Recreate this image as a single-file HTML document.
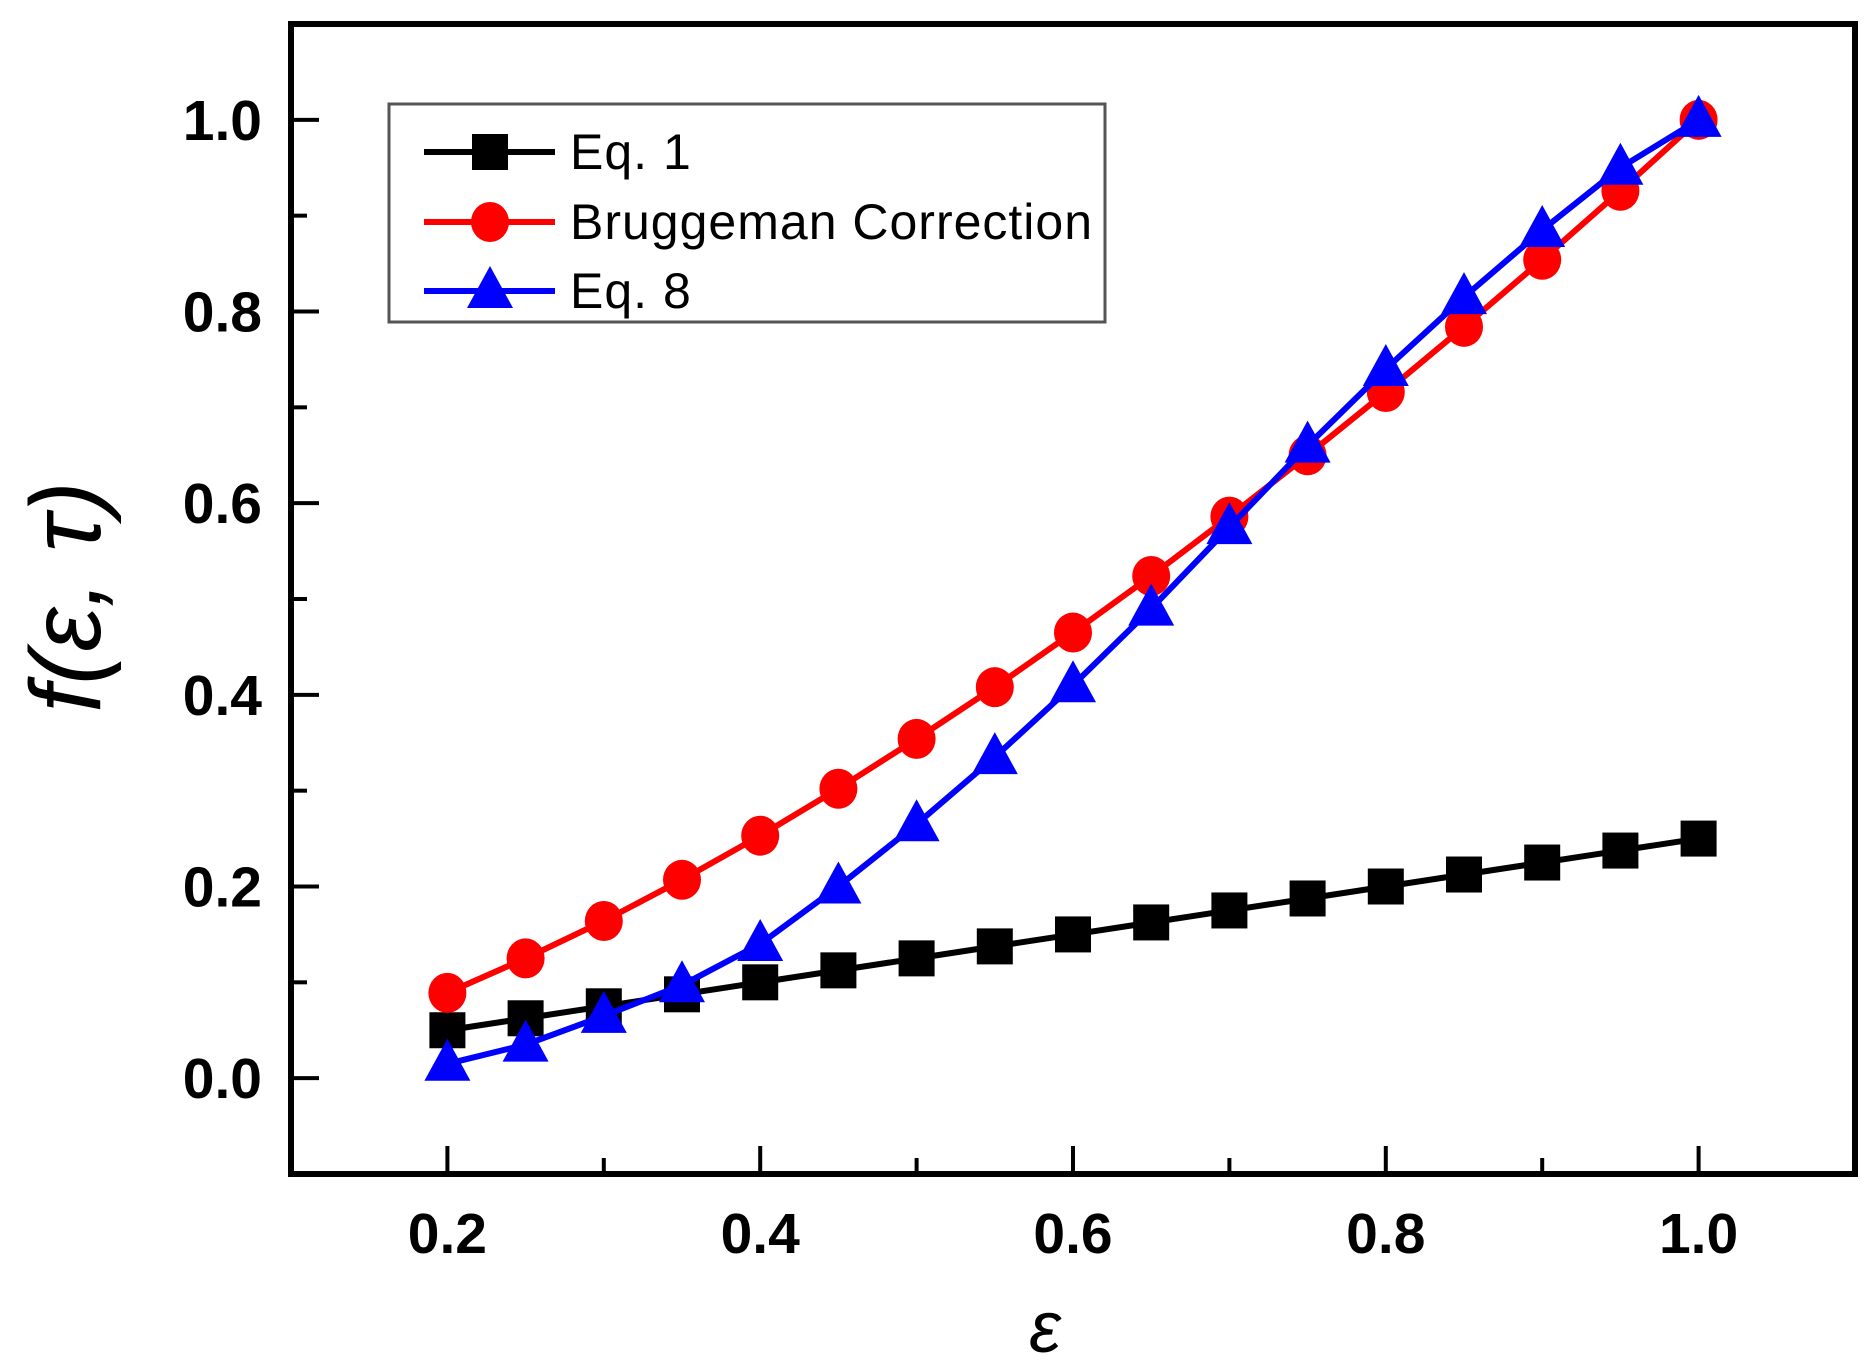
<!DOCTYPE html>
<html><head><meta charset="utf-8"><style>
html,body{margin:0;padding:0;background:#fff;}
svg{display:block;}
text{font-family:"Liberation Sans",sans-serif;}
</style></head><body>
<svg id="chart" width="1873" height="1367" viewBox="0 0 1873 1367">
<g id="plot"></g>
</svg>
<script>
const xs = [0.2,0.25,0.3,0.35,0.4,0.45,0.5,0.55,0.6,0.65,0.7,0.75,0.8,0.85,0.9,0.95,1.0];
const eq1 = [0.05,0.0625,0.075,0.0875,0.1,0.1125,0.125,0.1375,0.15,0.1625,0.175,0.1875,0.2,0.2125,0.225,0.2375,0.25];
const brug = [0.089,0.125,0.164,0.207,0.253,0.302,0.354,0.408,0.465,0.524,0.586,0.65,0.716,0.784,0.854,0.926,1.0];
const eq8 = [0.015,0.035,0.065,0.097,0.14,0.2,0.265,0.335,0.41,0.49,0.575,0.66,0.74,0.815,0.885,0.95,1.0];
const xTicks = ["0.2","0.4","0.6","0.8","1.0"];
const yTicks = ["0.0","0.2","0.4","0.6","0.8","1.0"];

const L=291,R=1855,T=24,B=1174;
const X0=0.1,X1=1.1,Y0=-0.1,Y1=1.1;
const sx=v=>L+(v-X0)/(X1-X0)*(R-L);
const sy=v=>B-(v-Y0)/(Y1-Y0)*(B-T);
const NS="http://www.w3.org/2000/svg";
const g=document.getElementById('plot');
function mk(tag,attrs,parent){const e=document.createElementNS(NS,tag);for(const k in attrs)e.setAttribute(k,attrs[k]);(parent||g).appendChild(e);return e;}

let fr=mk('rect',{x:L,y:T,width:R-L,height:B-T,fill:'none',stroke:'#000','stroke-width':6});



for(let v=0.2;v<=1.0001;v+=0.1){
  const major=Math.round(v*10)%2===0;
  const t=mk('line',{x1:sx(v),x2:sx(v),y1:B,y2:B-(major?28:16),stroke:'#000','stroke-width':4});
  
  
}
xTicks.forEach(s=>{
  const t=mk('text',{x:sx(parseFloat(s)),y:1253,'text-anchor':'middle','font-size':57,'font-weight':'bold'});
  t.textContent=s;
  
  
});
for(let v=0.0;v<=1.0001;v+=0.1){
  const major=Math.round(v*10)%2===0;
  const t=mk('line',{x1:L,x2:L+(major?28:16),y1:sy(v),y2:sy(v),stroke:'#000','stroke-width':4});
  
  
}
yTicks.forEach(s=>{
  const t=mk('text',{x:262,y:sy(parseFloat(s))+20,'text-anchor':'end','font-size':57,'font-weight':'bold'});
  t.textContent=s;
  
  
});

let xt=mk('text',{x:1045,y:1352,'text-anchor':'middle','font-size':72,'font-style':'italic','font-family':'"Liberation Serif",serif'});
xt.textContent='ε';


let yt=mk('text',{x:0,y:0,'text-anchor':'middle','font-size':100,'font-style':'italic','font-family':'"Liberation Serif",serif',transform:'translate(100,597) rotate(-90)'});
yt.textContent='f(ε, τ)';



function marker(type,cx,cy,color,parent){
  let m;
  if(type==='square') m=mk('rect',{x:cx-18,y:cy-18,width:36,height:36,fill:color},parent);
  else if(type==='circle') m=mk('ellipse',{cx:cx,cy:cy,rx:19,ry:20,fill:color},parent);
  else m=mk('polygon',{points:`${cx},${cy-25} ${cx-23},${cy+17} ${cx+23},${cy+17}`,fill:color},parent);
  return m;
}
function series(vals,color,type,name){
  const sg=mk('g',{});
  
  
  const pts=xs.map((x,i)=>sx(x)+','+sy(vals[i])).join(' ');
  const pl=mk('polyline',{points:pts,fill:'none',stroke:color,'stroke-width':6},sg);
  
  
  xs.forEach((x,i)=>{
    const m=marker(type,sx(x),sy(vals[i]),color,sg);
    
    
  });
}
series(eq1,'#000','square','eq1-series');
series(brug,'#ff0000','circle','bruggeman-series');
series(eq8,'#0000ff','triangle','eq8-series');

const lg=mk('g',{});


const lb=mk('rect',{x:389,y:104,width:716,height:218,fill:'#fff',stroke:'#555','stroke-width':3},lg);


const ents=[['Eq. 1','#000','square',152],['Bruggeman Correction','#ff0000','circle',222],['Eq. 8','#0000ff','triangle',291]];
ents.forEach(e=>{
  const eg=mk('g',{},lg);
  
  
  mk('line',{x1:424,x2:555,y1:e[3],y2:e[3],stroke:e[1],'stroke-width':6},eg);
  marker(e[2],490,e[3],e[1],eg);
  const t=mk('text',{x:570,y:e[3]+17,'font-size':50,'letter-spacing':1},eg);
  t.textContent=e[0];
  
  
});
</script>
</body></html>
